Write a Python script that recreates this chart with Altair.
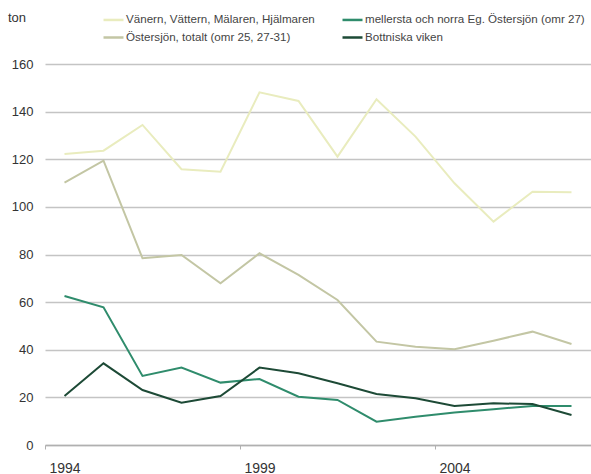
import altair as alt
import pandas as pd

years = list(range(1994, 2008))
vanern = [122.2, 123.6, 134.4, 115.8, 114.8, 148.1, 144.5, 121.1, 145.2, 129.5, 109.9, 93.8, 106.4, 106.1]
ostersjon = [110.2, 119.4, 78.4, 79.8, 67.9, 80.5, 71.4, 60.9, 43.4, 41.3, 40.2, 43.8, 47.6, 42.4]
mellersta = [62.6, 57.8, 29.0, 32.5, 26.2, 27.7, 20.3, 18.9, 9.8, 11.9, 13.6, 15.0, 16.4, 16.4]
bottniska = [20.6, 34.3, 23.1, 17.8, 20.6, 32.5, 30.1, 25.9, 21.4, 19.6, 16.4, 17.5, 17.2, 12.6]

names = [
    "Vänern, Vättern, Mälaren, Hjälmaren",
    "Östersjön, totalt (omr 25, 27-31)",
    "mellersta och norra Eg. Östersjön (omr 27)",
    "Bottniska viken",
]
colors = ["#e9ecbe", "#c3c6a4", "#2f8c6c", "#1d4a36"]
series = [vanern, ostersjon, mellersta, bottniska]

rows = []
for name, vals in zip(names, series):
    for y, v in zip(years, vals):
        rows.append({"year": y, "value": v, "series": name})
df = pd.DataFrame(rows)

FONT = "Liberation Sans"

x_ticks = [1993.5, 1998.5, 2003.5]

lines = alt.Chart(df).mark_line(strokeWidth=2).encode(
    x=alt.X(
        "year:Q",
        scale=alt.Scale(domain=[1993.5, 2007.5], nice=False, zero=False),
        axis=alt.Axis(
            title=None,
            values=x_ticks,
            labelExpr="format(datum.value + 0.5, 'd')",
            labelOffset=19.5,
            labelFlush=False,
            labelOverlap=False,
            labelPadding=12,
            labelFontSize=14,
            labelColor="#333333",
            labelFont=FONT,
            grid=False,
            domainColor="#b0b0b0",
            domainWidth=1.5,
            tickColor="#b0b0b0",
            tickSize=4,
        ),
    ),
    y=alt.Y(
        "value:Q",
        scale=alt.Scale(domain=[0, 160], nice=False),
        axis=alt.Axis(
            title=None,
            values=[0, 20, 40, 60, 80, 100, 120, 140, 160],
            domain=False,
            ticks=False,
            labelPadding=12,
            labelFontSize=13,
            labelColor="#333333",
            labelFont=FONT,
            gridColor="#c4c4c4",
            gridWidth=1.5,
        ),
    ),
    color=alt.Color(
        "series:N",
        scale=alt.Scale(domain=names, range=colors),
        legend=alt.Legend(
            title=None,
            orient="none",
            legendX=57,
            legendY=-56,
            columns=2,
            symbolType="stroke",
            symbolSize=400,
            symbolStrokeWidth=2.5,
            labelFontSize=11.6,
            labelFont=FONT,
            labelColor="#444444",
            labelOffset=1,
            labelLimit=400,
            columnPadding=22,
            rowPadding=0,
        ),
    ),
)

ton = alt.Chart(pd.DataFrame({"t": ["ton"]})).mark_text(
    font=FONT, fontSize=13, color="#333333", align="left", baseline="middle"
).encode(text="t:N", x=alt.value(-37), y=alt.value(-46))

chart = alt.layer(lines, ton).properties(
    width=546,
    height=381,
    autosize=alt.AutoSizeParams(type="none"),
    padding={"left": 45, "top": 64, "right": 0, "bottom": 29},
    background="white",
).configure_view(stroke=None)

chart.save("out.html", embed_options={"renderer": "svg", "actions": False})
